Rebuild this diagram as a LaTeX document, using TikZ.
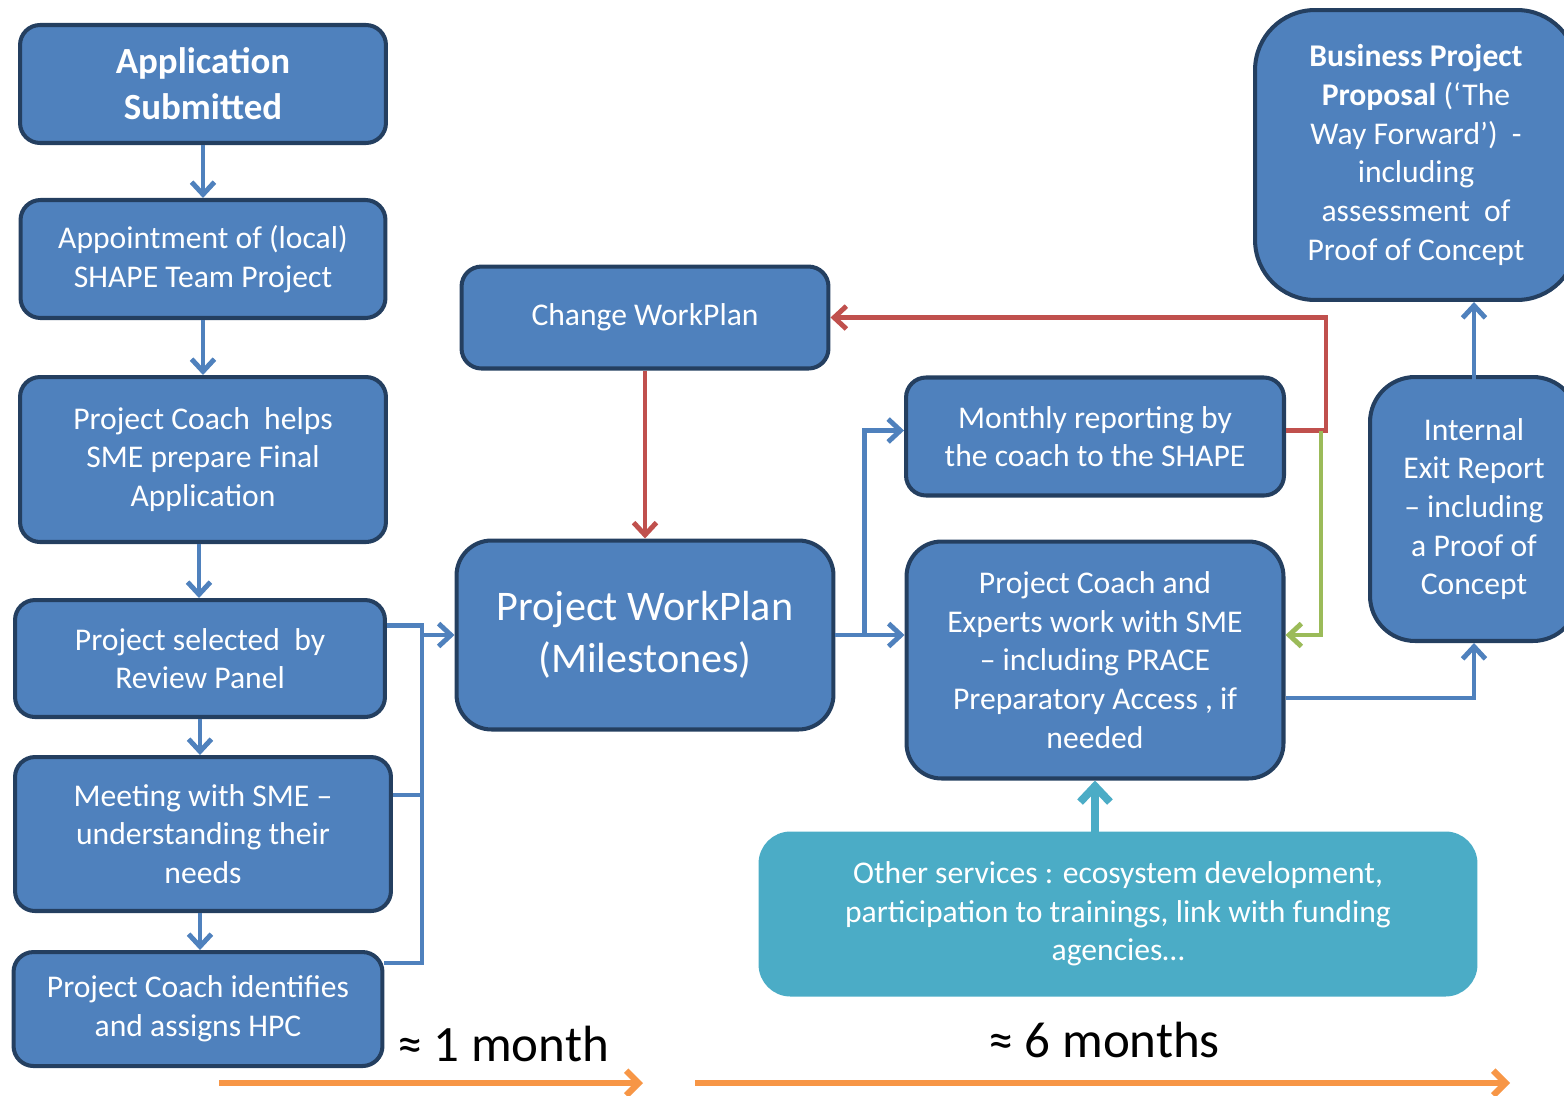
\documentclass[tikz,border=0pt]{standalone}
\usepackage{fontspec}
\setmainfont{Carlito}
\usepackage{xcolor}
\usepackage{tikz}
\usetikzlibrary{positioning}
\usetikzlibrary{calc}
\usetikzlibrary{arrows.meta}

\definecolor{boxfill}{RGB}{79,129,189}
\definecolor{boxline}{RGB}{36,63,96}
\definecolor{tealfill}{RGB}{75,172,198}
\definecolor{redline}{RGB}{192,80,77}
\definecolor{greenline}{RGB}{155,187,89}
\definecolor{orangeline}{RGB}{247,150,70}

\begin{document}
\begin{tikzpicture}[
        x=0.02cm, y=-0.02cm,
        box/.style={rectangle, draw=boxline, fill=boxfill, line width=2.3pt, rounded corners=0.4cm, align=center, text=white, font=\fontsize{18}{22}\selectfont, inner sep=0pt},
        bigbox/.style={box, rounded corners=0.7cm, font=\fontsize{24}{29.5}\selectfont},
        otherbox/.style={rectangle, draw=tealfill, fill=tealfill, line width=2.3pt, rounded corners=0.6cm, align=center, text=white, font=\fontsize{18}{22}\selectfont},
        tip/.style={-{Straight Barb[length=7pt, width=13pt]}},
        blueline/.style={draw=boxfill, line width=2.8pt, line join=miter},
        arrow/.style={blueline, tip},
        redarrow/.style={draw=redline, line width=2.8pt, tip},
        greenarrow/.style={draw=greenline, line width=2.8pt, tip},
        tealarrow/.style={draw=tealfill, line width=4.5pt, -{Straight Barb[length=9pt, width=17pt]}},
        timearrow/.style={draw=orangeline, line width=3.6pt, -{Straight Barb[length=7pt, width=14pt]}},
        timelabel/.style={font=\fontsize{29}{34}\selectfont, inner sep=0pt}
    ]

        \useasboundingbox (0,0) rectangle (1564,1095);

        % left column
        \node[box, minimum width=7.32cm, minimum height=2.36cm, font=\fontsize{21}{26}\selectfont\bfseries] (submitted) at (203,84) {Application\\Submitted};
        \node[box, minimum width=7.3cm, minimum height=2.36cm, below=1.06cm of submitted] (appoint) {Appointment of (local)\\SHAPE Team Project};
        \node[box, minimum width=7.32cm, minimum height=3.3cm, below=1.1cm of appoint] (helps) {Project Coach\ \ helps\\SME prepare Final\\Application};
        \node[box, minimum width=7.4cm, minimum height=2.34cm, below=1.08cm of helps, xshift=-0.06cm] (selected) {Project selected\ \ by\\Review Panel};
        \node[box, minimum width=7.52cm, minimum height=3.08cm, below=0.72cm of selected, xshift=0.06cm] (meeting) {Meeting with SME --\\understanding their\\needs};
        \node[box, minimum width=7.38cm, minimum height=2.28cm, below=0.74cm of meeting, xshift=-0.1cm] (identify) {Project Coach identifies\\and assigns HPC};

        % middle and right
        \node[bigbox, minimum width=7.54cm, minimum height=3.78cm] (workplan) at (645,635) {Project WorkPlan\\(Milestones)};
        \node[box, minimum width=7.34cm, minimum height=2.04cm, above=3.36cm of workplan] (change) {Change WorkPlan};
        \node[box, minimum width=7.54cm, minimum height=4.74cm, rounded corners=0.7cm] (experts) at (1095,660) {Project Coach and\\Experts work with SME\\-- including PRACE\\Preparatory Access , if\\needed};
        \node[box, minimum width=7.56cm, minimum height=2.36cm, above=0.84cm of experts] (monthly) {Monthly reporting by\\the coach to the SHAPE};
        \node[box, minimum width=4.16cm, minimum height=5.28cm, rounded corners=0.9cm] (exit) at (1474,509) {Internal\\Exit Report\\-- including\\a Proof of\\Concept};
        \node[box, minimum width=6.44cm, minimum height=5.8cm, rounded corners=1.2cm] (proposal) at (1416,155) {\textbf{Business Project}\\\textbf{Proposal} (‘The\\Way Forward’)\ \ -\\including\\assessment\ \ of\\Proof of Concept};
        \node[otherbox, minimum width=14.3cm, minimum height=3.22cm] (others) at (1118,914) {Other services : ecosystem development,\\participation to trainings, link with funding\\agencies…};

        % left column arrows
        \draw[arrow] (submitted) -- (appoint);
        \draw[arrow] (appoint) -- (helps);
        \draw[arrow] ([xshift=-0.08cm]helps.south) -- ([xshift=-0.08cm]helps.south |- selected.north);
        \draw[arrow] (selected) -- (selected.south |- meeting.north);
        \draw[arrow] (selected.south |- meeting.south) -- (selected.south |- identify.north);

        % into the workplan
        \coordinate (joinL) at (422,635);
        \draw[blueline] ($(selected.east)+(0,-33)$) -| (joinL);
        \draw[blueline] ($(meeting.east)+(0,-39)$) -| (joinL);
        \draw[blueline] ($(identify.east)+(0,-46)$) -| (joinL);
        \draw[arrow] (joinL) -- (workplan);

        \draw[redarrow] (change) -- (workplan);
        \draw[arrow] (workplan.east) -- (workplan.east -| experts.west);
        \draw[arrow] ($(workplan.east)+(29,0)$) |- ($(monthly.west)+(0,-6)$);

        % feedback loops
        \draw[redarrow] ($(monthly.east)+(0,-6)$) -- ++(40,0) |- (change.east);
        \draw[greenarrow] ($(monthly.east)+(35,-6)$) |- ($(experts.east)+(0,-25)$);

        % towards the exit
        \draw[arrow] ($(experts.east)+(0,38)$) -| (exit.south);
        \draw[arrow] ($(exit.north)+(0,43)$) -- (exit.north |- proposal.south);
        \draw[tealarrow] (others.north -| experts.south) -- (experts.south);

        % time line
        \coordinate (oneS) at (219,1083);
        \coordinate (oneE) at (643,1083);
        \coordinate (sixS) at (695,1083);
        \coordinate (sixE) at (1510,1083);
        \draw[timearrow] (oneS) -- (oneE);
        \draw[timearrow] (sixS) -- (sixE);
        \node[timelabel] (onemonth) at (503,1044) {≈ 1 month};
        \node[timelabel] (sixmonth) at (1104,1040) {≈ 6 months};
    \end{tikzpicture}
\end{document}
